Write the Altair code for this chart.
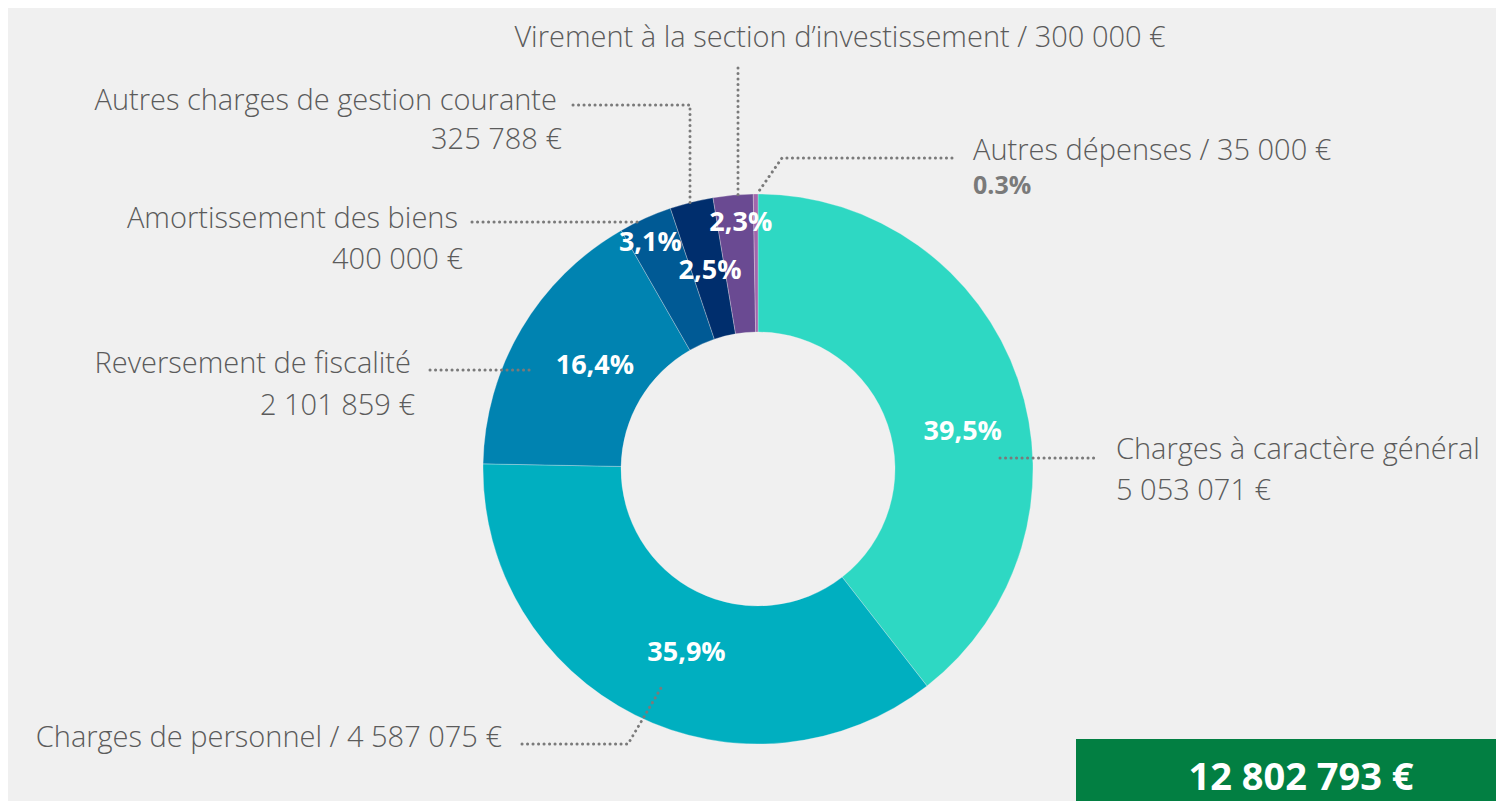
import math
import altair as alt
import pandas as pd

# ---------------- data ----------------
categories = [
    "Charges à caractère général",
    "Charges de personnel",
    "Reversement de fiscalité",
    "Amortissement des biens",
    "Autres charges de gestion courante",
    "Virement à la section d’investissement",
    "Autres dépenses",
]
amounts = [5053071, 4587075, 2101859, 400000, 325788, 300000, 35000]
amount_labels = ["5 053 071 €", "4 587 075 €", "2 101 859 €", "400 000 €",
                 "325 788 €", "300 000 €", "35 000 €"]
pct_labels = ["39,5%", "35,9%", "16,4%", "3,1%", "2,5%", "2,3%", "0.3%"]
colors = ["#2ED8C3", "#00AFC0", "#0083B1", "#005A95", "#002E6D", "#6A4A92", "#A266AC"]
total_label = "12 802 793 €"

# ---------------- layout ----------------
W, H = 1488, 793
CX, CY = 750, 461
R_OUT, R_IN = 275, 137
FONT = "Open Sans"
GREY = "#5B5B5B"

# radius / angular offset of the in-ring percentage labels
pct_radius = [208, 197, 193, 250, 204, 247]
pct_angle_offset = [8.8, -5.3, 1.7, -1.3, 0.4, 1.2]

total = sum(amounts)
mids = []
cum = 0
for a in amounts:
    mids.append((cum + a / 2) / total * 360)
    cum += a

pct_rows = []
for i in range(6):
    ang = math.radians(mids[i] + pct_angle_offset[i])
    pct_rows.append({
        "t": pct_labels[i],
        "x": CX + pct_radius[i] * math.sin(ang),
        "y": CY - pct_radius[i] * math.cos(ang),
    })
pct_df = pd.DataFrame(pct_rows)

# leader lines (chart coordinates)
leaders = [
    [(992, 450), (1089, 450)],
    [(514, 736), (620, 736), (653, 680)],
    [(422, 362), (522, 362)],
    [(464, 214), (632, 214)],
    [(565, 97), (682, 97), (682, 199)],
    [(730, 60), (730, 192)],
    [(944, 150), (774, 150), (751, 183)],
]
line_rows = []
for k, pts in enumerate(leaders):
    for j, (x, y) in enumerate(pts):
        line_rows.append({"id": k, "idx": j, "x": x, "y": y})
lines_df = pd.DataFrame(line_rows)

# category labels: (text, x, y, align)
label_rows = [
    (categories[0], 1108, 442, "left"),
    (amount_labels[0], 1108, 483, "left"),
    (f"{categories[1]} / {amount_labels[1]}", 494, 730, "right"),
    (categories[2], 403, 356, "right"),
    (amount_labels[2], 407, 398, "right"),
    (categories[3], 450, 211, "right"),
    (amount_labels[3], 455, 252, "right"),
    (categories[4], 549, 93, "right"),
    (amount_labels[4], 554, 132, "right"),
    (f"{categories[5]} / {amount_labels[5]}", 832, 30, "center"),
    (f"{categories[6]} / {amount_labels[6]}", 965, 143, "left"),
]
labels_df = pd.DataFrame(label_rows, columns=["t", "x", "y", "align"])
bold_df = pd.DataFrame([{"t": pct_labels[6], "x": 965, "y": 178}])

box_df = pd.DataFrame([{"x": 1068, "x2": 1496, "y": 731, "y2": 801,
                        "tx": 1293, "ty": 782, "t": total_label}])

# ---------------- chart ----------------
arc_df = pd.DataFrame({"cat": categories, "amount": amounts, "order": list(range(7))})
arc = alt.Chart(arc_df).mark_arc(
    outerRadius=R_OUT, innerRadius=R_IN, stroke="#F0F0F0", strokeWidth=0.6, strokeOpacity=0.5
).encode(
    theta=alt.Theta("amount:Q", stack=True),
    order=alt.Order("order:Q"),
    color=alt.Color("cat:N", scale=alt.Scale(domain=categories, range=colors), legend=None),
    x=alt.value(CX),
    y=alt.value(CY),
)

X = lambda f: alt.X(f, scale=None, axis=None)
Y = lambda f: alt.Y(f, scale=None, axis=None)

pct = alt.Chart(pct_df).mark_text(
    font=FONT, fontSize=27, fontWeight="bold", color="white", align="center", baseline="middle"
).encode(x=X("x:Q"), y=Y("y:Q"), text="t:N")

lines = alt.Chart(lines_df).mark_line(
    color="#7A7A7A", strokeWidth=3, strokeDash=[0.1, 5.4], strokeCap="round"
).encode(x=X("x:Q"), y=Y("y:Q"), detail="id:N", order="idx:Q")

text_layers = []
for al in ["left", "right", "center"]:
    text_layers.append(
        alt.Chart(labels_df).transform_filter(alt.datum.align == al).mark_text(
            font=FONT, fontSize=29, fontWeight=300, color=GREY, align=al, baseline="middle"
        ).encode(x=X("x:Q"), y=Y("y:Q"), text="t:N")
    )

bold = alt.Chart(bold_df).mark_text(
    font=FONT, fontSize=25, fontWeight="bold", color="#7A7A7A", align="left", baseline="middle"
).encode(x=X("x:Q"), y=Y("y:Q"), text="t:N")

box = alt.Chart(box_df).mark_rect(color="#027F42").encode(
    x=X("x:Q"), x2="x2:Q", y=Y("y:Q"), y2="y2:Q"
)
box_text = alt.Chart(box_df).mark_text(
    font=FONT, fontSize=38, fontWeight="bold", color="white", align="center", baseline="alphabetic"
).encode(x=X("tx:Q"), y=Y("ty:Q"), text="t:N")

chart = alt.layer(arc, lines, pct, *text_layers, bold, box, box_text).properties(
    width=W, height=H, background="#F0F0F0", padding=0, autosize="none"
).configure_view(stroke=None)

chart.save("out.html", embed_options={"renderer": "svg", "actions": False})
